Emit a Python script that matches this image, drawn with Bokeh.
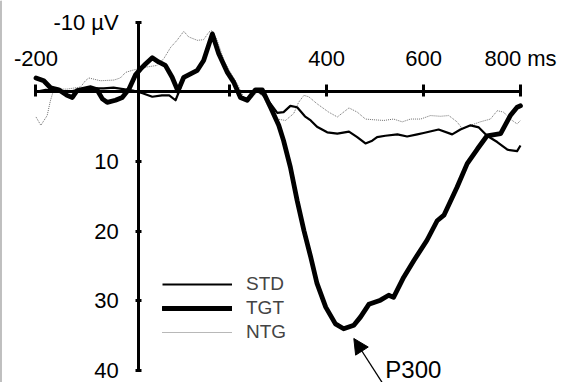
from bokeh.plotting import figure
from bokeh.models import Range1d, Legend, LegendItem, Arrow, NormalHead, FixedTicker
from bokeh.core.properties import value
from bokeh.embed import file_html
from bokeh.resources import INLINE

# ---- data (ms, microvolts; positive values plotted downward) ----
tgt_t = [-200, -184, -170, -153, -136, -125, -115, -101, -87, -74, -63, -53, -36, -22, -8, 5, 16, 26, 40, 53,
         67, 81, 93, 105, 119, 133, 146, 164, 177, 195, 208, 222, 236, 253, 267, 284, 301, 311, 325, 339,
         353, 367, 380, 398, 418, 435, 456, 470, 487, 511, 528, 538, 559, 580, 607, 628, 642, 669, 690, 711,
         731, 759, 779, 793, 800]
tgt_v = [-2.0, -1.6, -0.6, -0.3, 0.5, 0.8, -0.2, -0.4, -0.6, -0.3, 1.0, 1.5, 1.2, 0.8, -0.4, -2.4, -3.3, -4.0, -4.9, -4.3,
         -3.8, -2.1, -0.1, -2.1, -2.6, -3.1, -4.5, -8.3, -5.5, -2.8, -1.4, 0.8, 1.2, -0.3, -0.3, 2.2, 4.8, 7.0, 10.8, 15.6,
         19.9, 23.7, 27.5, 30.9, 33.3, 34.0, 33.5, 32.3, 30.5, 29.9, 29.2, 29.5, 26.6, 24.2, 21.3, 18.5, 17.7, 13.7, 10.3, 8.2,
         6.3, 6.0, 3.4, 2.2, 2.0]

std_t = [-200, -180, -160, -140, -120, -100, -80, -60, -40, -20, 0, 20, 40, 60, 75, 88, 95, 105, 119, 133,
         146, 164, 177, 195, 208, 222, 236, 253, 267, 284, 298, 311, 325, 339, 355, 367, 380, 401, 422, 446,
         463, 480, 494, 504, 521, 546, 566, 587, 600, 631, 659, 676, 697, 714, 731, 752, 773, 793, 800]
std_v = [0.0, -0.3, -0.2, 0.1, -0.2, -0.3, -0.5, -0.5, -0.6, -0.4, -0.2, 0.2, 0.7, 0.5, 0.5, 1.2, 0.0, -2.0, -2.6, -3.1,
         -4.5, -8.3, -5.5, -2.8, -1.4, 0.8, 1.2, -0.3, 0.3, 1.7, 3.0, 2.9, 2.0, 2.2, 3.5, 4.1, 5.0, 5.8, 6.0, 5.7,
         6.5, 7.4, 7.0, 6.5, 6.3, 6.1, 6.4, 6.1, 5.9, 5.4, 6.1, 5.4, 4.8, 5.1, 6.3, 7.2, 8.3, 8.5, 7.7]

ntg_t = [-200, -190, -177, -170, -163, -136, -108, -98, -91, -67, -39, -26, -15, -1, 22, 50, 64, 78, 91, 105,
         115, 133, 146, 157, 164, 174, 188, 201, 215, 229, 243, 257, 270, 284, 298, 315, 332, 342, 353, 363,
         380, 404, 422, 446, 463, 480, 497, 518, 538, 556, 573, 594, 614, 635, 652, 669, 680, 697, 717, 738,
         752, 765, 779, 793, 800]
ntg_v = [3.6, 4.8, 3.4, 1.2, -0.4, -0.4, -0.7, -1.6, -2.0, -1.6, -1.7, -2.0, -2.8, -3.1, -3.5, -3.8, -4.8, -6.4, -7.4, -8.7,
         -7.9, -7.4, -7.5, -8.6, -8.8, -7.4, -4.5, -2.8, -1.2, 0.8, 1.0, 0.0, 0.8, 2.7, 3.9, 4.1, 3.1, 1.5, 0.5, 0.7,
         1.7, 2.9, 3.6, 2.3, 2.9, 3.9, 4.0, 4.1, 3.9, 4.3, 3.9, 3.9, 3.4, 3.5, 3.4, 4.3, 5.3, 4.8, 4.3, 3.9,
         2.7, 2.9, 3.9, 4.6, 4.1]

x_ticks = [-200, 200, 400, 600, 800]
x_labels = {-200: "-200", 200: "", 400: "400", 600: "600", 800: "800 ms"}
y_ticks = [-10, 10, 20, 30, 40]
y_labels = {-10: "-10 µV", 10: "10", 20: "20", 30: "30", 40: "40"}

FONT = "Liberation Sans"

p = figure(width=565, height=382, output_backend="svg", toolbar_location=None,
           x_range=Range1d(-271.2, 892.9), y_range=Range1d(41.72, -13.12),
           x_axis_location="above", y_axis_location="left",
           min_border_left=1, min_border_right=0, min_border_top=0, min_border_bottom=0)
p.outline_line_color = None
p.xgrid.visible = False
p.ygrid.visible = False
p.background_fill_color = "white"
p.border_fill_color = "black"   # 1px frame line at the left edge

# x axis through 0 µV, labels above
xa = p.xaxis[0]
xa.fixed_location = 0
xa.bounds = (-200, 800)
xa.ticker = FixedTicker(ticks=x_ticks)
xa.major_label_overrides = x_labels
xa.minor_tick_line_color = None
xa.axis_line_width = 3
xa.major_tick_line_width = 3
xa.major_tick_out = 7
xa.major_tick_in = 5
xa.major_label_standoff = 14
xa.major_label_text_font = FONT
xa.major_label_text_font_size = "22px"
xa.major_label_text_color = "black"

# y axis near stimulus onset
ya = p.yaxis[0]
ya.fixed_location = 12
ya.bounds = (-10, 40)
ya.ticker = FixedTicker(ticks=y_ticks)
ya.major_label_overrides = y_labels
ya.minor_tick_line_color = None
ya.axis_line_width = 3
ya.major_tick_line_width = 3
ya.major_tick_out = 3
ya.major_tick_in = 3
ya.major_label_standoff = 17
ya.major_label_text_font = FONT
ya.major_label_text_font_size = "22px"
ya.major_label_text_color = "black"

r_ntg = p.line(ntg_t, ntg_v, line_color="#707070", line_width=1, line_dash="1 1")
r_std = p.line(std_t, std_v, line_color="black", line_width=2.2, line_join="round")
r_tgt = p.line(tgt_t, tgt_v, line_color="black", line_width=4.8, line_join="round", line_cap="round")

legend = Legend(items=[LegendItem(label="STD", renderers=[r_std]),
                       LegendItem(label="TGT", renderers=[r_tgt]),
                       LegendItem(label="NTG", renderers=[r_ntg])],
                location=(161, 39), orientation="vertical",
                glyph_width=70, glyph_height=20, label_height=20, spacing=2,
                label_standoff=14, padding=0, margin=0,
                border_line_color=None, background_fill_alpha=0,
                label_text_font=FONT, label_text_font_size="19px")
p.add_layout(legend, "center")

p.add_layout(Arrow(end=NormalHead(size=15, fill_color="black", line_color="black"),
                   x_start=517, y_start=42.0, x_end=456, y_end=35.4,
                   line_color="black", line_width=1.3))
p.text(x=[521], y=[39.84], text=["P300"], text_font=value(FONT), text_font_size="24px",
       text_baseline="middle", text_align="left", text_color="black")

open("out.html", "w").write(file_html(p, INLINE))
